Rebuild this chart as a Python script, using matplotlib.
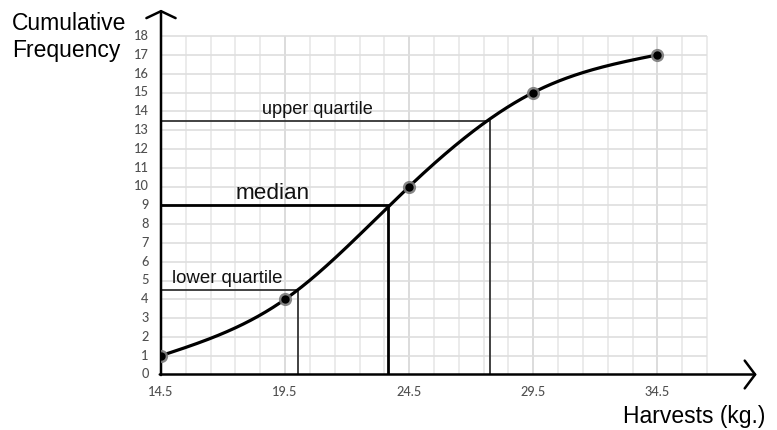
import numpy as np
import matplotlib
matplotlib.use("Agg")
import matplotlib.pyplot as plt

# ---- data ----
harvest_bounds = [14.5, 19.5, 24.5, 29.5, 34.5]
cum_freq = [1, 4, 10, 15, 17]
x_tick_labels = ["14.5", "19.5", "24.5", "29.5", "34.5"]
y_tick_values = list(range(0, 19))
quartile_names = ["lower quartile", "median", "upper quartile"]
quartile_y = [4.5, 9, 13.5]
quartile_x = [20.0, 23.65, 27.77]


def natural_spline(xs, ys, xq):
    xs = np.asarray(xs, float)
    ys = np.asarray(ys, float)
    n = len(xs)
    h = np.diff(xs)
    A = np.zeros((n, n))
    b = np.zeros(n)
    A[0, 0] = 1
    A[-1, -1] = 1
    for i in range(1, n - 1):
        A[i, i - 1] = h[i - 1]
        A[i, i] = 2 * (h[i - 1] + h[i])
        A[i, i + 1] = h[i]
        b[i] = 6 * ((ys[i + 1] - ys[i]) / h[i] - (ys[i] - ys[i - 1]) / h[i - 1])
    M = np.linalg.solve(A, b)
    out = np.empty_like(xq)
    for k, x in enumerate(xq):
        i = min(max(np.searchsorted(xs, x) - 1, 0), n - 2)
        a = xs[i + 1] - x
        c = x - xs[i]
        hi = h[i]
        out[k] = (M[i] * a ** 3 / (6 * hi) + M[i + 1] * c ** 3 / (6 * hi)
                  + (ys[i] / hi - M[i] * hi / 6) * a
                  + (ys[i + 1] / hi - M[i + 1] * hi / 6) * c)
    return out


fig = plt.figure(figsize=(7.77, 4.30), dpi=100)
W, H = 777, 430
x0_px, y0_px = 161, 374.5
px_per_x, px_per_y = 24.82, 18.8
xmax, ymax = 38.7, 19.5
ax = fig.add_axes([x0_px / W, (H - y0_px) / H,
                   (xmax - 14.5) * px_per_x / W, ymax * px_per_y / H])
ax.set_xlim(14.5, xmax)
ax.set_ylim(0, ymax)
ax.axis("off")

# grid
grid_x = np.arange(14.5, 36.51, 1.0)
for gx in grid_x:
    major = abs((gx - 14.5) % 5) < 1e-6
    ax.plot([gx, gx], [0, 18], color="#d6d6d6" if major else "#e8e8e8",
            lw=1.2, zorder=1, solid_capstyle="butt")
for gy in y_tick_values:
    ax.plot([14.5, 36.5], [gy, gy], color="#dedede", lw=1.2, zorder=1,
            solid_capstyle="butt")

# axes with arrows
ax.annotate("", xy=(38.5, 0), xytext=(14.45, 0),
            arrowprops=dict(arrowstyle="->,head_length=0.75,head_width=1.0",
                            lw=1.8, color="black", shrinkA=0, shrinkB=0),
            zorder=5)
ax.annotate("", xy=(14.5, 19.4), xytext=(14.5, -0.03),
            arrowprops=dict(arrowstyle="->,head_length=0.5,head_width=1.05",
                            lw=1.8, color="black", shrinkA=0, shrinkB=0),
            zorder=5)

# tick labels
tick_font = dict(fontsize=9.2, color="#505050", family=["Lato", "DejaVu Sans"],
                 weight="medium")
for xv, lab in zip(harvest_bounds, x_tick_labels):
    ax.text(xv, -0.95, lab, ha="center", va="center", **tick_font)
for yv in y_tick_values:
    ax.text(14.5 - 0.5, yv, str(yv), ha="right", va="center", **tick_font)

# quartile lines
styles = [dict(color="#333333", lw=1.3),
          dict(color="black", lw=2.0),
          dict(color="#333333", lw=1.3)]
for qx, qy, st in zip(quartile_x, quartile_y, styles):
    ax.plot([14.5, qx, qx], [qy, qy, 0], zorder=3,
            solid_joinstyle="miter", **st)

label_font = dict(family="Liberation Sans", color="#111111")
ax.text(14.95, 4.5 + 0.35, quartile_names[0], fontsize=13.4, ha="left",
        va="baseline", **label_font)
ax.text(17.5, 9 + 0.35, quartile_names[1], fontsize=16.2, ha="left",
        va="baseline", **label_font)
ax.text(18.55, 13.5 + 0.37, quartile_names[2], fontsize=13.1, ha="left",
        va="baseline", **label_font)

# curve
xs = np.linspace(harvest_bounds[0], harvest_bounds[-1], 400)
ys = natural_spline(harvest_bounds, cum_freq, xs)
ax.plot(xs, ys, color="black", lw=2.3, zorder=4)
ax.plot(harvest_bounds, cum_freq, "o", ms=9.5, color="#7a7a7a", zorder=6,
        mec="none", alpha=0.9)
ax.plot(harvest_bounds, cum_freq, "o", ms=6, color="black", zorder=7,
        mec="none")

# axis titles
fig.text(12 / W, 1 - 30 / H, "Cumulative", fontsize=16.5,
         family="Liberation Sans", ha="left", va="baseline")
fig.text(12 / W, 1 - 57 / H, "Frequency", fontsize=16.5,
         family="Liberation Sans", ha="left", va="baseline")
fig.text(765 / W, 1 - 423 / H, "Harvests (kg.)", fontsize=16.5,
         family="Liberation Sans", ha="right", va="baseline")

fig.savefig("out.png", dpi=100, facecolor="white")
